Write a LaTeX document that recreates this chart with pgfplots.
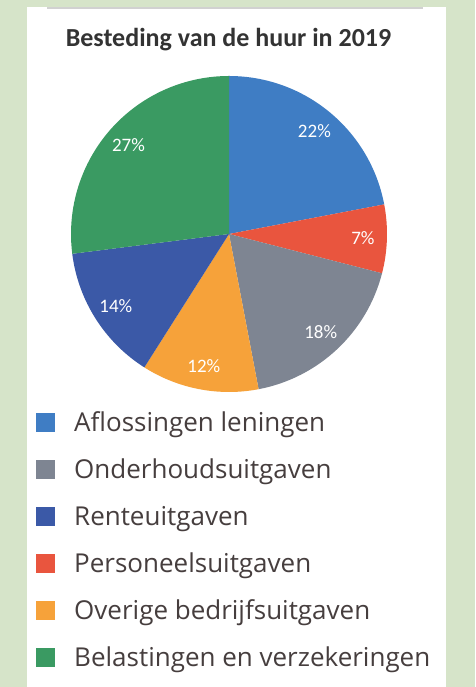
\documentclass[border=0pt]{standalone}
\usepackage{pgfplots}
\pgfplotsset{compat=1.18}
\usepackage{pgfplotstable}
\usepackage{fontspec}
\setmainfont{Open Sans}
\newfontfamily\carlito{Carlito}
\definecolor{bggreen}{HTML}{D6E4C9}
\definecolor{cA}{HTML}{3F7DC4}
\definecolor{cR}{HTML}{E9553E}
\definecolor{cG}{HTML}{7E8592}
\definecolor{cO}{HTML}{F6A23A}
\definecolor{cD}{HTML}{3B59A7}
\definecolor{cGr}{HTML}{3A9A62}
\definecolor{textc}{HTML}{463E3E}
\definecolor{titlec}{HTML}{333333}
\pgfplotstableread{
value col
22 cA
7 cR
18 cG
12 cO
14 cD
27 cGr
}\piedata
\pgfplotstableread[col sep=comma]{
name,col
Aflossingen leningen,cA
Onderhoudsuitgaven,cG
Renteuitgaven,cD
Personeelsuitgaven,cR
Overige bedrijfsuitgaven,cO
Belastingen en verzekeringen,cGr
}\legdata
\tikzset{pielabel/.style={text=white,font=\carlito\fontsize{19}{21}\selectfont}}
\begin{document}
\begin{tikzpicture}
\begin{axis}[width=475pt,height=687pt,scale only axis,
  xmin=0,xmax=475,ymin=0,ymax=687,hide axis,clip=false,
]
\fill[bggreen] (axis cs:0,0) rectangle (axis cs:475,687);
\fill[white] (axis cs:27,0) rectangle (axis cs:446,680);
\draw[black!18,line width=1.5pt] (axis cs:47,679) -- (axis cs:423,679);
\node[font=\carlito\bfseries\fontsize{26}{30}\selectfont,text=titlec,anchor=base] at (axis cs:228.5,640) {Besteding van de huur in 2019};
\def\cum{90}
\pgfplotsforeachungrouped \i in {0,...,5}{%
  \pgfplotstablegetelem{\i}{value}\of\piedata \let\v=\pgfplotsretval
  \pgfplotstablegetelem{\i}{col}\of\piedata \let\c=\pgfplotsretval
  \pgfmathsetmacro\endang{\cum-3.6*\v}%
  \pgfmathsetmacro\midang{(\cum+\endang)/2}%
  \edef\temp{\noexpand\fill[\c] (axis cs:229,453) -- ++(\cum:158pt) arc[start angle=\cum, end angle=\endang, radius=158pt] -- cycle;
    \noexpand\path (axis cs:229,453) ++(\midang:134pt) node[pielabel] {\v\noexpand\%};}%
  \temp
  \global\let\cum\endang
}
\pgfplotsforeachungrouped \i in {0,...,5}{%
  \pgfplotstablegetelem{\i}{name}\of\legdata \let\n=\pgfplotsretval
  \pgfplotstablegetelem{\i}{col}\of\legdata \let\c=\pgfplotsretval
  \pgfmathsetmacro\by{687-432-47*\i}%
  \pgfmathsetmacro\ty{\by+19}%
  \edef\temp{\noexpand\fill[\c] (axis cs:36,\by) rectangle (axis cs:55,\ty);
    \noexpand\node[anchor=base west,inner sep=0pt,text=textc,font=\noexpand\fontsize{26}{30}\noexpand\selectfont] at (axis cs:74,\by) {\n};}%
  \temp
}
\end{axis}
\end{tikzpicture}
\end{document}
